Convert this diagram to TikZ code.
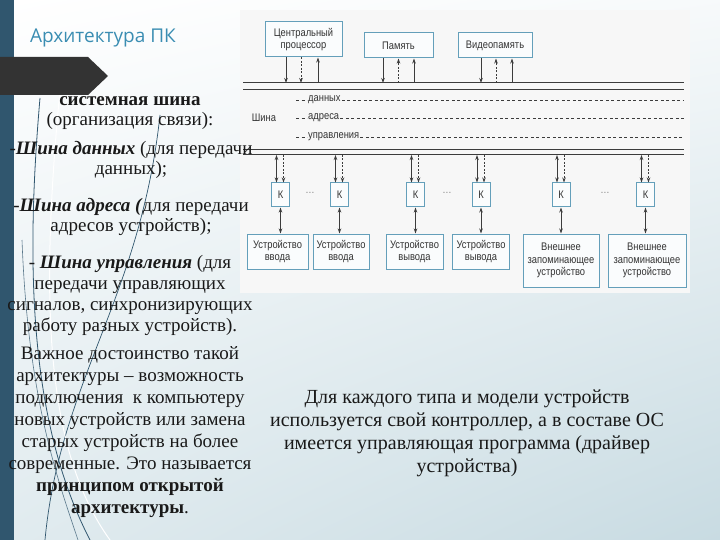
\documentclass[tikz,border=0pt]{standalone}
\usepackage{fontspec}
\setmainfont{Liberation Serif}
\newfontfamily\diafont[FakeStretch=0.85]{Liberation Sans}
\newfontfamily\titlefont{Open Sans}
\usetikzlibrary{arrows.meta,positioning,shadings}
\definecolor{slidebar}{HTML}{30566E}
\definecolor{banner}{HTML}{333333}
\definecolor{titleblue}{HTML}{3A8DB2}
\definecolor{boxline}{HTML}{649FBA}
\definecolor{busgray}{HTML}{3C3C3C}
\definecolor{bgblue}{HTML}{C8DBE2}
\tikzset{
  unitbox/.style={draw=boxline, line width=1pt, fill=white!97!boxline, font=\diafont\fontsize{11}{12.5}\selectfont, text=black!80, align=center, inner sep=2pt},
  kbox/.style={unitbox, minimum width=18pt, minimum height=24pt, inner sep=0pt},
  devbox/.style={unitbox, minimum height=35pt},
  extbox/.style={unitbox, minimum height=53pt, minimum width=76pt},
  busline/.style={busgray, line width=1pt},
  busdash/.style={busgray, line width=0.8pt, dash pattern=on 3pt off 2.5pt},
  buslabel/.style={font=\diafont\fontsize{11}{12}\selectfont, text=black!80, inner sep=1pt},
  sig/.style={busgray, line width=0.9pt, -{Stealth[length=5pt,width=3.5pt]}},
  sigdash/.style={sig, dash pattern=on 2pt off 1.5pt},
  sigboth/.style={busgray, line width=0.9pt, {Stealth[length=5pt,width=3.5pt]}-{Stealth[length=5pt,width=3.5pt]}},
  slidetext/.style={font=\fontsize{19}{22}\selectfont, align=center, text=black!90, inner sep=0pt},
}
\begin{document}
\begin{tikzpicture}[x=1pt,y=-1pt]
		\useasboundingbox (0,0) rectangle (720,540);
		% slide background
		\shade[upper left=white, upper right=white!85!bgblue, lower left=white!45!bgblue, lower right=bgblue] (0,0) rectangle (720,540);
		\fill[slidebar] (0,0) rectangle (14,540);
		\draw[slidebar, line width=0.8pt] (40,98) .. controls (26,260) and (28,420) .. (90,540);
		\draw[slidebar!80, line width=0.6pt] (22,240) .. controls (28,400) and (58,480) .. (78,540);
		\draw[slidebar, line width=0.7pt] (160,115) .. controls (140,300) and (60,380) .. (45,540);
		\draw[white, line width=1pt] (60,90) .. controls (40,300) and (45,450) .. (110,540);
		\fill[banner] (0,57) -- (88,57) -- (108,76) -- (88,95) -- (0,95) -- cycle;
		\node[font=\titlefont\fontsize{19}{22}\selectfont, text=titleblue, anchor=west, inner sep=0pt] (title) at (30,38) {Архитектура ПК};

		% diagram picture
		\fill[white!94!gray] (240,10) rectangle (690,293);
		\node[unitbox, minimum width=77pt, minimum height=35pt] (cpu) at (303.5,39.5) {Центральный\\процессор};
		\node[unitbox, minimum width=69pt, minimum height=25pt] (mem) at (398.5,45.5) {Память};
		\node[unitbox, minimum width=74pt, minimum height=25pt] (vmem) at (495,45.5) {Видеопамять};

		\coordinate (bus1) at (243,83);
		\coordinate (bus1e) at (684,83);
		\coordinate (bus2) at (243,90);
		\coordinate (bus2e) at (684,90);
		\coordinate (bus3) at (243,150);
		\coordinate (bus3e) at (684,150);
		\coordinate (bus4) at (243,155);
		\coordinate (bus4e) at (684,155);
		\draw[busline] (bus1) -- (bus1e);
		\draw[busline] (bus2) -- (bus2e);
		\draw[busline] (bus3) -- (bus3e);
		\draw[busline] (bus4) -- (bus4e);

		\draw[sig] ([xshift=-17.5pt]cpu.south) -- ([xshift=-17.5pt]cpu.south |- bus1);
		\draw[sigdash] ([xshift=-2.5pt]cpu.south) -- ([xshift=-2.5pt]cpu.south |- bus1);
		\draw[sig] ([xshift=14.5pt]cpu.south |- bus1) -- ([xshift=14.5pt]cpu.south);
		\draw[sig] ([xshift=-15.5pt]mem.south) -- ([xshift=-15.5pt]mem.south |- bus1);
		\draw[sigdash] (mem.south |- bus1) -- (mem.south);
		\draw[sig] ([xshift=15.5pt]mem.south |- bus1) -- ([xshift=15.5pt]mem.south);
		\draw[sig] ([xshift=-14pt]vmem.south) -- ([xshift=-14pt]vmem.south |- bus1);
		\draw[sigdash] ([xshift=1pt]vmem.south |- bus1) -- ([xshift=1pt]vmem.south);
		\draw[sig] ([xshift=17pt]vmem.south |- bus1) -- ([xshift=17pt]vmem.south);

		\node[buslabel] (bus) at (264,118) {Шина};
		\node[buslabel, anchor=west] (data) at (307,100) {данных};
		\node[buslabel, anchor=west] (addr) at (307,118) {адреса};
		\node[buslabel, anchor=west] (ctrl) at (307,137) {управления};
		\draw[busdash] ([xshift=-11pt]data.west) -- (data.west);
		\draw[busdash] (data.east) -- (data.east -| bus1e);
		\draw[busdash] ([xshift=-11pt]addr.west) -- (addr.west);
		\draw[busdash] (addr.east) -- (addr.east -| bus1e);
		\draw[busdash] ([xshift=-11pt]ctrl.west) -- (ctrl.west);
		\draw[busdash] (ctrl.east) -- (ctrl.east -| bus1e);

		% controllers
		\node[kbox] (k1) at (280.5,195) {К};
		\node[kbox] (k2) at (339.5,195) {К};
		\node[kbox] (k3) at (415.5,195) {К};
		\node[kbox] (k4) at (481,195) {К};
		\node[kbox] (k5) at (561,195) {К};
		\node[kbox] (k6) at (645.5,195) {К};
		\node[buslabel, text=black!50] (dots1) at (310,193) {…};
		\node[buslabel, text=black!50] (dots2) at (447,193) {…};
		\node[buslabel, text=black!50] (dots3) at (605,193) {…};

		\draw[sigboth] ([xshift=-4pt]k1.north |- bus4) -- ([xshift=-4pt]k1.north);
		\draw[sigdash] ([xshift=3pt]k1.north |- bus4) -- ([xshift=3pt]k1.north);
		\draw[sigboth] ([xshift=-4pt]k2.north |- bus4) -- ([xshift=-4pt]k2.north);
		\draw[sigdash] ([xshift=3pt]k2.north |- bus4) -- ([xshift=3pt]k2.north);
		\draw[sigboth] ([xshift=-4pt]k3.north |- bus4) -- ([xshift=-4pt]k3.north);
		\draw[sigdash] ([xshift=3pt]k3.north |- bus4) -- ([xshift=3pt]k3.north);
		\draw[sigboth] ([xshift=-4pt]k4.north |- bus4) -- ([xshift=-4pt]k4.north);
		\draw[sigdash] ([xshift=3pt]k4.north |- bus4) -- ([xshift=3pt]k4.north);
		\draw[sigboth] ([xshift=-4pt]k5.north |- bus4) -- ([xshift=-4pt]k5.north);
		\draw[sigdash] ([xshift=3pt]k5.north |- bus4) -- ([xshift=3pt]k5.north);
		\draw[sigboth] ([xshift=-4pt]k6.north |- bus4) -- ([xshift=-4pt]k6.north);
		\draw[sigdash] ([xshift=3pt]k6.north |- bus4) -- ([xshift=3pt]k6.north);

		% devices
		\node[devbox, minimum width=61pt, below=26pt of k1, xshift=-3pt] (in1) {Устройство\\ввода};
		\node[devbox, minimum width=56pt, below=26pt of k2, xshift=1.5pt] (in2) {Устройство\\ввода};
		\node[devbox, minimum width=57pt, below=26pt of k3, xshift=-1pt] (out1) {Устройство\\вывода};
		\node[devbox, minimum width=57pt, below=26pt of k4] (out2) {Устройство\\вывода};
		\node[extbox, below=26pt of k5] (ext1) {Внешнее\\запоминающее\\устройство};
		\node[extbox, minimum width=78pt, below=26pt of k6, xshift=1.5pt] (ext2) {Внешнее\\запоминающее\\устройство};
		\draw[sigboth] (k1.south) -- (k1.south |- in1.north);
		\draw[sigboth] (k2.south) -- (k2.south |- in2.north);
		\draw[sigboth] (k3.south) -- (k3.south |- out1.north);
		\draw[sigboth] (k4.south) -- (k4.south |- out2.north);
		\draw[sigboth] (k5.south) -- (k5.south |- ext1.north);
		\draw[sigboth] (k6.south) -- (k6.south |- ext2.north);

		% slide text
		\node[slidetext, font=\fontsize{19}{20}\selectfont] (p1) at (130,113) {\textbf{системная шина}\\(организация связи):};
		\node[slidetext, font=\fontsize{19}{20}\selectfont] (p2) at (131,159.5) {-\textbf{\textit{Шина данных}} (для передачи\\данных);};
		\node[slidetext, font=\fontsize{19}{20}\selectfont] (p3) at (131,217) {-\textbf{\textit{Шина адреса (}}для передачи\\адресов устройств);};
		\node[slidetext, font=\fontsize{19}{21}\selectfont] (p4) at (130,295) {- \textbf{\textit{Шина управления}} (для\\передачи управляющих\\сигналов, синхронизирующих\\работу разных устройств).};
		\node[slidetext] (p5) at (130,432) {Важное достоинство такой\\архитектуры – возможность\\подключения\ \ к компьютеру\\новых устройств или замена\\старых устройств на более\\современные. Это называется\\\textbf{принципом открытой}\\\textbf{архитектуры}.};
		\node[slidetext, font=\fontsize{20}{23}\selectfont] (note) at (467,433) {Для каждого типа и модели устройств\\используется свой контроллер, а в составе ОС\\имеется управляющая программа (драйвер\\устройства)};
\end{tikzpicture}
\end{document}
